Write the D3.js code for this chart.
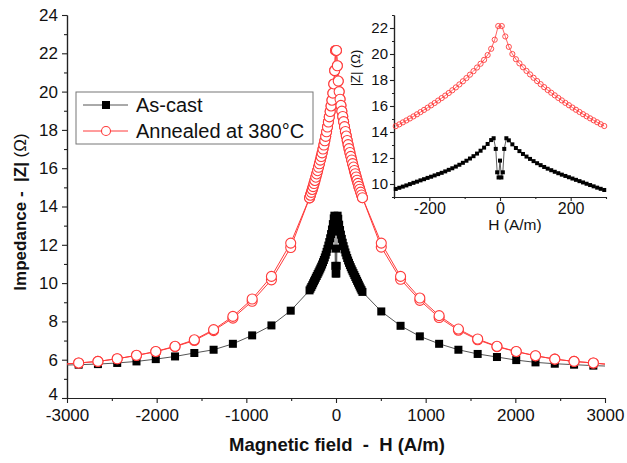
<!DOCTYPE html>
<html>
<head>
<meta charset="utf-8">
<script src="https://cdn.jsdelivr.net/npm/d3@7"></script>
<style>
  body { margin: 0; background: #fff; }
  svg { display: block; font-family: "Liberation Sans", Arial, sans-serif; }
</style>
</head>
<body>
<div id="chart"></div>
<script>
// sparse field points of the wide sweep
const mainH = [-3000, -2870, -2655, -2440, -2225, -2010, -1795, -1580, -1365, -1150, -935, -720, -505,
  505, 720, 935, 1150, 1365, 1580, 1795, 2010, 2225, 2440, 2655, 2870, 3000];
const castMain = [5.72, 5.74, 5.77, 5.83, 5.91, 6.03, 6.17, 6.35, 6.52, 6.83, 7.27, 7.79, 8.56,
  8.52, 7.77, 7.22, 6.83, 6.52, 6.30, 6.14, 5.98, 5.86, 5.79, 5.74, 5.69, 5.67];
const annealMainUp = [5.78, 5.83, 5.91, 6.05, 6.23, 6.43, 6.70, 7.04, 7.57, 8.26, 9.17, 10.35, 12.09,
  12.09, 10.35, 9.22, 8.30, 7.60, 7.08, 6.70, 6.43, 6.21, 6.03, 5.91, 5.83, 5.77];
const annealMainDown = [5.78, 5.83, 5.91, 6.05, 6.22, 6.42, 6.68, 7.00, 7.52, 8.17, 9.05, 10.17, 11.86,
  11.88, 10.20, 9.10, 8.20, 7.54, 7.04, 6.68, 6.42, 6.20, 6.03, 5.91, 5.83, 5.77];

// dense low-field points (also shown in the inset)
const annealInsetH = [-295, -285, -275, -265, -255, -245, -235, -225, -215, -205, -195, -185, -175, -165, -155,
  -145, -135, -125, -115, -105, -95, -85, -75, -65, -55, -45, -35, -25, -15, -5,
  5, 15, 25, 35, 45, 55, 65, 75, 85, 95, 105, 115, 125, 135, 145,
  155, 165, 175, 185, 195, 205, 215, 225, 235, 245, 255, 265, 275, 285, 295];
const annealInset = [14.45, 14.59, 14.74, 14.89, 15.04, 15.20, 15.36, 15.53, 15.70, 15.87, 16.05, 16.23, 16.42, 16.61, 16.80,
  17.00, 17.21, 17.43, 17.66, 17.90, 18.15, 18.41, 18.68, 18.96, 19.25, 19.55, 19.92, 20.40, 21.10, 22.15,
  22.15, 21.35, 20.55, 20.00, 19.60, 19.28, 18.98, 18.70, 18.43, 18.17, 17.92, 17.68, 17.45, 17.23, 17.02,
  16.82, 16.62, 16.43, 16.24, 16.06, 15.88, 15.71, 15.54, 15.37, 15.21, 15.05, 14.90, 14.75, 14.60, 14.46];
const castInsetH = [-295, -285, -275, -265, -255, -245, -235, -225, -215, -205, -195, -185, -175, -165,
  -155, -145, -135, -125, -115, -105, -95, -85, -75, -65, -55, -45, -35, -25,
  -18, -12, -8, -4, 0, 4, 8, 12, 18,
  25, 35, 45, 55, 65, 75, 85, 95, 105, 115, 125, 135, 145, 155,
  165, 175, 185, 195, 205, 215, 225, 235, 245, 255, 265, 275, 285, 295];
const castInset = [9.62, 9.71, 9.80, 9.89, 9.99, 10.09, 10.18, 10.28, 10.37, 10.47, 10.56, 10.66, 10.76, 10.86,
  10.97, 11.09, 11.21, 11.34, 11.48, 11.63, 11.79, 11.96, 12.14, 12.34, 12.56, 12.80, 13.08, 13.38,
  13.52, 12.70, 10.90, 10.50, 11.80, 10.50, 10.90, 12.70, 13.52,
  13.36, 13.05, 12.77, 12.53, 12.31, 12.11, 11.93, 11.76, 11.60, 11.45, 11.31, 11.18, 11.06, 10.94,
  10.83, 10.72, 10.62, 10.52, 10.42, 10.32, 10.22, 10.12, 10.02, 9.92, 9.82, 9.72, 9.63, 9.54];

const mainYTicks = [4, 6, 8, 10, 12, 14, 16, 18, 20, 22, 24];
const mainYMinor = [5, 7, 9, 11, 13, 15, 17, 19, 21, 23];
const mainXTicks = [-3000, -2000, -1000, 0, 1000, 2000, 3000];
const mainXMinor = [-2500, -1500, -500, 500, 1500, 2500];
const insetYTicks = [10, 12, 14, 16, 18, 20, 22];
const insetYMinor = [9, 11, 13, 15, 17, 19, 21, 23];
const insetXTicks = [-200, 0, 200];
const insetXMinor = [-300, -100, 100, 300];

const legendItems = ["As-cast", "Annealed at 380\u00B0C"];

const RED = "#ff3b3b";
const plainFmt = d => String(d);

function zipPts(hs, zs) { return hs.map((h, i) => ({ h: h, z: zs[i] })); }
function merged(hs, zs, ihs, izs) {
  const pts = zipPts(hs, zs).concat(zipPts(ihs, izs));
  return pts.sort((a, b) => a.h - b.h);
}

const castAll = merged(mainH, castMain, castInsetH, castInset);
const annealUp = merged(mainH, annealMainUp, annealInsetH, annealInset);
const annealDown = merged(mainH, annealMainDown, annealInsetH, annealInset);

const svgWidth = 627, svgHeight = 463;
const svg = d3.select("#chart").append("svg")
  .attr("width", svgWidth).attr("height", svgHeight);

// main scales
const x = d3.scaleLinear([-3000, 3000], [67, 605]);
const y = d3.scaleLinear([4, 24], [398, 15]);

// axes
function styleAxis(g) {
  g.selectAll(".domain").attr("stroke", "#222").attr("stroke-width", 1.2);
  g.selectAll(".tick line").attr("stroke", "#222").attr("stroke-width", 1.1);
}

svg.append("g").attr("transform", "translate(67,0)")
  .call(d3.axisLeft(y).tickValues(mainYMinor).tickFormat("").tickSize(3).tickSizeOuter(0))
  .call(styleAxis);
const yAxisG = svg.append("g").attr("transform", "translate(67,0)")
  .call(d3.axisLeft(y).tickValues(mainYTicks).tickFormat(plainFmt).tickSize(5).tickPadding(4).tickSizeOuter(0))
  .call(styleAxis);
yAxisG.selectAll("text").style("font-size", "17px").attr("fill", "#111");
// lowest label sits a little higher so it clears the x labels
yAxisG.selectAll("text").filter(d => d === 4).attr("dy", "0.1em");

svg.append("g").attr("transform", "translate(0,398)")
  .call(d3.axisBottom(x).tickValues(mainXMinor).tickFormat("").tickSize(3).tickSizeOuter(0))
  .call(styleAxis);
svg.append("g").attr("transform", "translate(0,398)")
  .call(d3.axisBottom(x).tickValues(mainXTicks).tickFormat(plainFmt).tickSize(5).tickPadding(6).tickSizeOuter(0))
  .call(styleAxis)
  .selectAll("text").style("font-size", "17px").attr("fill", "#111");

// axis titles
svg.append("text")
  .attr("x", 337).attr("y", 451)
  .attr("text-anchor", "middle")
  .style("font-size", "18.5px").style("font-weight", "bold")
  .attr("fill", "#111")
  .attr("xml:space", "preserve")
  .text("Magnetic field  -  H (A/m)");

const yTitle = svg.append("text")
  .attr("transform", "translate(26,212) rotate(-90)")
  .attr("text-anchor", "middle")
  .style("font-size", "17px")
  .attr("fill", "#111")
  .attr("xml:space", "preserve");
yTitle.append("tspan").style("font-weight", "bold").text("Impedance -  |Z| ");
yTitle.append("tspan").text("(\u03A9)");

// clip for main plot
svg.append("clipPath").attr("id", "mainClip")
  .append("rect").attr("x", 67).attr("y", 0).attr("width", 538).attr("height", 398);

const plot = svg.append("g").attr("clip-path", "url(#mainClip)");

const line = d3.line().x(d => x(d.h)).y(d => y(d.z));

// as-cast series
plot.append("path").datum(castAll)
  .attr("d", line).attr("fill", "none")
  .attr("stroke", "#555").attr("stroke-width", 1);
plot.selectAll(".sq").data(castAll.filter(d => Math.abs(d.h) < 3000))
  .enter().append("rect")
  .attr("x", d => x(d.h) - 4).attr("y", d => y(d.z) - 4)
  .attr("width", 8).attr("height", 8)
  .attr("fill", "#000");

// annealed series (two sweeps)
[annealDown, annealUp].forEach(series => {
  plot.append("path").datum(series)
    .attr("d", line).attr("fill", "none")
    .attr("stroke", RED).attr("stroke-width", 1);
});
[annealDown, annealUp].forEach(series => {
  plot.append("g").selectAll("circle")
    .data(series.filter(d => Math.abs(d.h) < 3000))
    .enter().append("circle")
    .attr("cx", d => x(d.h)).attr("cy", d => y(d.z)).attr("r", 5)
    .attr("fill", "#fff").attr("stroke", RED).attr("stroke-width", 1.1);
});

// legend
const lg = svg.append("g");
lg.append("rect")
  .attr("x", 76).attr("y", 92).attr("width", 237).attr("height", 52)
  .attr("fill", "#fff").attr("stroke", "#777").attr("stroke-width", 1);
legendItems.forEach((name, i) => {
  const ly = 105 + i * 26;
  lg.append("line").attr("x1", 83).attr("x2", 128).attr("y1", ly).attr("y2", ly)
    .attr("stroke", i === 0 ? "#555" : RED).attr("stroke-width", 1);
  if (i === 0) {
    lg.append("rect").attr("x", 102).attr("y", ly - 4).attr("width", 8).attr("height", 8).attr("fill", "#000");
  } else {
    lg.append("circle").attr("cx", 106).attr("cy", ly).attr("r", 4.5)
      .attr("fill", "#fff").attr("stroke", RED).attr("stroke-width", 1.1);
  }
  lg.append("text").attr("x", 136).attr("y", ly + 7)
    .style("font-size", "20px").attr("fill", "#111").text(name);
});

// inset
const xi = d3.scaleLinear([-300, 300], [394, 606]);
const yi = d3.scaleLinear([9, 23], [197, 15]);

svg.append("g").attr("transform", "translate(394,0)")
  .call(d3.axisLeft(yi).tickValues(insetYMinor).tickFormat("").tickSize(2).tickSizeOuter(0))
  .call(styleAxis);
svg.append("g").attr("transform", "translate(394,0)")
  .call(d3.axisLeft(yi).tickValues(insetYTicks).tickFormat(plainFmt).tickSize(4).tickPadding(2).tickSizeOuter(0))
  .call(styleAxis)
  .selectAll("text").style("font-size", "15px").attr("fill", "#111");
svg.append("g").attr("transform", "translate(0,197)")
  .call(d3.axisBottom(xi).tickValues(insetXMinor).tickFormat("").tickSize(2).tickSizeOuter(0))
  .call(styleAxis);
svg.append("g").attr("transform", "translate(0,197)")
  .call(d3.axisBottom(xi).tickValues(insetXTicks).tickFormat(plainFmt).tickSize(4).tickPadding(2).tickSizeOuter(0))
  .call(styleAxis)
  .selectAll("text").style("font-size", "16px").attr("fill", "#111");

svg.append("text").attr("x", 515).attr("y", 230)
  .attr("text-anchor", "middle").style("font-size", "15.5px").attr("fill", "#111")
  .text("H (A/m)");
svg.append("text").attr("transform", "translate(360,68) rotate(-90)")
  .attr("text-anchor", "middle").style("font-size", "13px").attr("fill", "#111")
  .text("|Z| (\u03A9)");

const lineIn = d3.line().x(d => xi(d.h)).y(d => yi(d.z));
const castIn = zipPts(castInsetH, castInset);
const annealIn = zipPts(annealInsetH, annealInset);

svg.append("path").datum(castIn).attr("d", lineIn)
  .attr("fill", "none").attr("stroke", "#333").attr("stroke-width", 0.8);
svg.append("g").selectAll("rect").data(castIn).enter().append("rect")
  .attr("x", d => xi(d.h) - 2).attr("y", d => yi(d.z) - 2)
  .attr("width", 4).attr("height", 4).attr("fill", "#000");

svg.append("path").datum(annealIn).attr("d", lineIn)
  .attr("fill", "none").attr("stroke", RED).attr("stroke-width", 0.8);
svg.append("g").selectAll("circle").data(annealIn).enter().append("circle")
  .attr("cx", d => xi(d.h)).attr("cy", d => yi(d.z)).attr("r", 2.6)
  .attr("fill", "none").attr("stroke", RED).attr("stroke-width", 0.9);
</script>
</body>
</html>
